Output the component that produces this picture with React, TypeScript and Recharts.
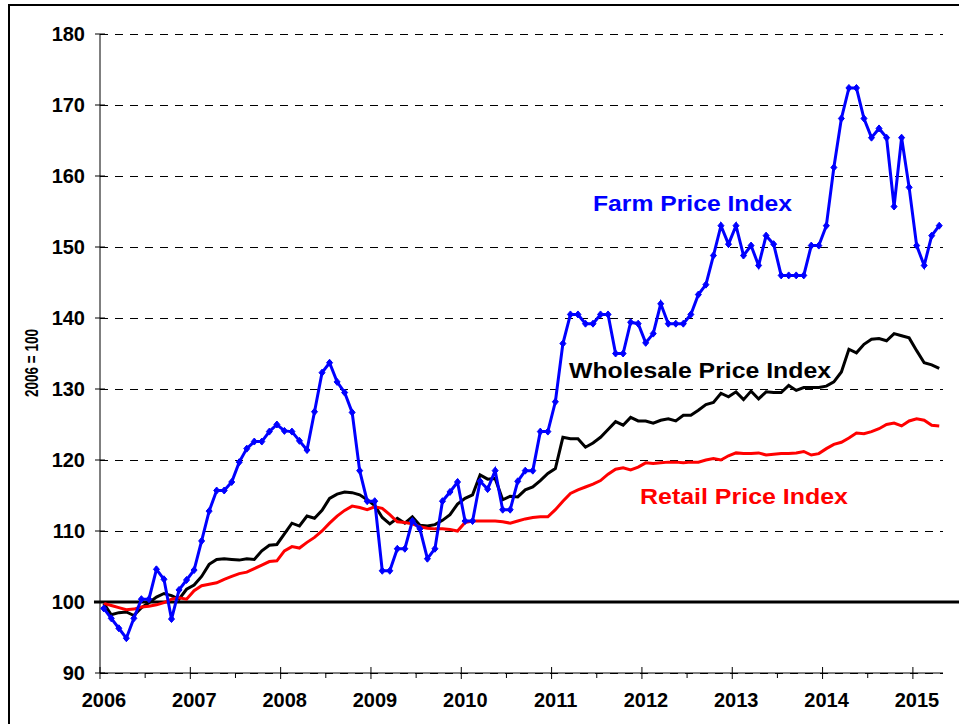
import React from "react";
import { LineChart, Line, XAxis, YAxis, CartesianGrid, ReferenceLine } from "recharts";

// Monthly indices, Jan 2006 .. Apr 2015 (2006 = 100)
const farmPrice: number[] = [
  99.1, 97.7, 96.3, 94.9, 97.7, 100.4, 100.4, 104.6, 103.2, 97.6, 101.7, 103.1,
  104.5, 108.6, 112.8, 115.7, 115.7, 116.9, 119.7, 121.6, 122.6, 122.6, 124.0, 125.0,
  124.1, 124.0, 122.7, 121.4, 126.8, 132.3, 133.7, 131.0, 129.5, 126.7, 118.5, 114.2,
  114.2, 104.4, 104.4, 107.5, 107.5, 111.4, 110.3, 106.1, 107.5, 114.2, 115.5, 116.9,
  111.4, 111.4, 117.0, 115.9, 118.5, 113.0, 113.0, 117.0, 118.5, 118.5, 124.0, 124.0,
  128.2, 136.4, 140.5, 140.5, 139.2, 139.2, 140.5, 140.5, 135.0, 135.0, 139.4, 139.2,
  136.5, 137.8, 142.0, 139.2, 139.2, 139.2, 140.5, 143.3, 144.7, 148.8, 153.0, 150.4,
  153.0, 148.8, 150.2, 147.4, 151.6, 150.4, 146.0, 146.0, 146.0, 146.0, 150.2, 150.2,
  153.0, 161.2, 168.1, 172.4, 172.4, 168.1, 165.4, 166.7, 165.4, 155.7, 165.4, 158.4,
  150.2, 147.4, 151.6, 153.0,
];

const wholesalePrice: number[] = [
  99.8, 98.2, 98.5, 98.6, 98.1, 99.2, 99.9, 100.7, 101.2, 100.9, 100.4, 101.8,
  102.4, 103.6, 105.3, 106.0, 106.1, 106.0, 105.9, 106.1, 106.0, 107.2, 108.0, 108.1,
  109.6, 111.1, 110.7, 112.1, 111.8, 112.9, 114.6, 115.2, 115.5, 115.4, 115.1, 114.4,
  113.6, 111.9, 111.0, 111.8, 111.1, 112.0, 110.8, 110.7, 110.9, 111.5, 112.3, 113.8,
  114.6, 115.1, 117.9, 117.3, 117.4, 114.4, 114.9, 114.8, 115.8, 116.2, 117.1, 118.1,
  118.8, 123.2, 123.0, 123.0, 121.8, 122.4, 123.2, 124.3, 125.4, 124.9, 126.0, 125.5,
  125.5, 125.2, 125.6, 125.8, 125.5, 126.3, 126.3, 127.0, 127.8, 128.1, 129.4, 128.9,
  129.6, 128.5, 129.7, 128.6, 129.6, 129.5, 129.5, 130.5, 129.8, 130.2, 130.2, 130.2,
  130.4, 131.0, 132.4, 135.6, 135.1, 136.3, 137.0, 137.1, 136.8, 137.8, 137.5, 137.2,
  135.4, 133.7, 133.4, 132.9,
];

const retailPrice: number[] = [
  99.8, 99.5, 99.2, 98.9, 99.0, 99.3, 99.4, 99.6, 99.9, 100.4, 100.6, 100.4,
  101.6, 102.3, 102.5, 102.7, 103.2, 103.6, 104.0, 104.2, 104.7, 105.2, 105.7, 105.8,
  107.2, 107.8, 107.6, 108.4, 109.1, 110.0, 111.1, 112.1, 112.9, 113.5, 113.3, 113.0,
  113.4, 113.2, 112.3, 111.3, 111.2, 111.0, 110.6, 110.4, 110.3, 110.3, 110.2, 110.0,
  111.2, 111.4, 111.4, 111.4, 111.4, 111.3, 111.1, 111.4, 111.7, 111.9, 112.0, 112.0,
  113.0, 114.2, 115.3, 115.8, 116.2, 116.6, 117.1, 118.0, 118.7, 118.9, 118.6, 119.0,
  119.6, 119.5, 119.6, 119.7, 119.7, 119.6, 119.7, 119.7, 120.0, 120.2, 120.0, 120.6,
  121.0, 120.9, 120.9, 121.0, 120.7, 120.8, 120.9, 120.9, 121.0, 121.2, 120.7, 120.9,
  121.6, 122.2, 122.5, 123.1, 123.8, 123.7, 124.0, 124.4, 125.0, 125.2, 124.8, 125.5,
  125.8, 125.6, 124.9, 124.8,
];

const startYear = 2006;
const yearLabels: number[] = [2006, 2007, 2008, 2009, 2010, 2011, 2012, 2013, 2014, 2015];
const yTicks: number[] = [90, 100, 110, 120, 130, 140, 150, 160, 170, 180];
const monthCount = 112;

const data = farmPrice.map((v, i) => ({
  t: i + 0.5,
  farm: v,
  wholesale: wholesalePrice[i],
  retail: retailPrice[i],
}));

const xTicks: number[] = [];
for (let m = 0; m <= (yearLabels[yearLabels.length - 1] - startYear) * 12; m += 6) xTicks.push(m);

const FONT = "'Liberation Sans', Arial, sans-serif";

const XTick = (props: any) => {
  const { x, y, payload } = props;
  const v = payload.value as number;
  const major = v % 12 === 0;
  return (
    <g>
      {major ? (
        <line x1={x} x2={x} y1={y - 6} y2={y + 6} stroke="#000" strokeWidth={1} />
      ) : (
        <line x1={x} x2={x} y1={y} y2={y + 5} stroke="#000" strokeWidth={1} />
      )}
      {major && (
        <text x={x + 4} y={y + 34} textAnchor="middle" fontFamily={FONT} fontWeight="bold" fontSize={20} fill="#000">
          {startYear + v / 12}
        </text>
      )}
    </g>
  );
};

const YTick = (props: any) => {
  const { x, y, payload } = props;
  return (
    <g>
      <line x1={x - 5} x2={x + 5} y1={y} y2={y} stroke="#000" strokeWidth={1} />
      <text x={x - 15} y={y + 7} textAnchor="end" fontFamily={FONT} fontWeight="bold" fontSize={20} fill="#000">
        {payload.value}
      </text>
    </g>
  );
};

const FarmDot = (props: any) => {
  const { cx, cy, index } = props;
  if (cx == null || cy == null) return <g key={`d${index}`} />;
  return (
    <path
      key={`d${index}`}
      d={`M${cx},${cy - 3.5}L${cx + 3},${cy}L${cx},${cy + 3.5}L${cx - 3},${cy}Z`}
      fill="#0000FF"
      stroke="#0000FF"
      strokeWidth={1}
    />
  );
};

export default function App() {
  return (
    <div style={{ position: "absolute", left: 0, top: 0, width: 959, height: 725, overflow: "hidden", background: "#fff" }}>
      <LineChart
        width={959}
        height={725}
        data={data}
        margin={{ top: 34, right: 16, bottom: 22, left: 40 }}
      >
        <CartesianGrid
          horizontal
          vertical={false}
          stroke="#000"
          strokeDasharray="8 7"
          strokeWidth={1}
          shapeRendering="crispEdges"
        />
        <XAxis
          type="number"
          dataKey="t"
          domain={[0, monthCount]}
          ticks={xTicks}
          interval={0}
          height={30}
          tickSize={0}
          tickMargin={0}
          tickLine={false}
          axisLine={{ stroke: "#000", strokeWidth: 1 }}
          tick={<XTick />}
          allowDataOverflow
        />
        <YAxis
          type="number"
          domain={[90, 180]}
          ticks={yTicks}
          interval={0}
          width={60}
          tickSize={0}
          tickMargin={0}
          tickLine={false}
          axisLine={{ stroke: "#000", strokeWidth: 1 }}
          tick={<YTick />}
          allowDataOverflow
        />
        <ReferenceLine
          segment={[{ x: -0.8, y: 100 }, { x: 116, y: 100 }]}
          stroke="#000"
          strokeWidth={3}
          ifOverflow="visible"
        />
        <Line type="linear" dataKey="wholesale" stroke="#000000" strokeWidth={3} dot={false} isAnimationActive={false} />
        <Line type="linear" dataKey="retail" stroke="#FF0000" strokeWidth={3} dot={false} isAnimationActive={false} />
        <Line type="linear" dataKey="farm" stroke="#0000FF" strokeWidth={3} dot={<FarmDot />} isAnimationActive={false} />
      </LineChart>
      <svg width={959} height={725} style={{ position: "absolute", left: 0, top: 0, pointerEvents: "none" }}>
        <text x={593} y={211} fontFamily={FONT} fontWeight="bold" fontSize={22} fill="#0000FF" textLength={199} lengthAdjust="spacingAndGlyphs">
          Farm Price Index
        </text>
        <text x={569} y={378} fontFamily={FONT} fontWeight="bold" fontSize={22} fill="#000000" textLength={262} lengthAdjust="spacingAndGlyphs">
          Wholesale Price Index
        </text>
        <text x={640} y={504} fontFamily={FONT} fontWeight="bold" fontSize={22} fill="#FF0000" textLength={208} lengthAdjust="spacingAndGlyphs">
          Retail Price Index
        </text>
        <text
          x={0}
          y={0}
          transform="translate(38,363) rotate(-90)"
          textAnchor="middle"
          fontFamily={FONT}
          fontWeight="bold"
          fontSize={19}
          fill="#000"
          textLength={68}
          lengthAdjust="spacingAndGlyphs"
        >
          2006 = 100
        </text>
        <line x1={9} y1={5} x2={9} y2={724} stroke="#000" strokeWidth={2} />
        <line x1={8} y1={5} x2={959} y2={5} stroke="#000" strokeWidth={2} />
      </svg>
    </div>
  );
}
